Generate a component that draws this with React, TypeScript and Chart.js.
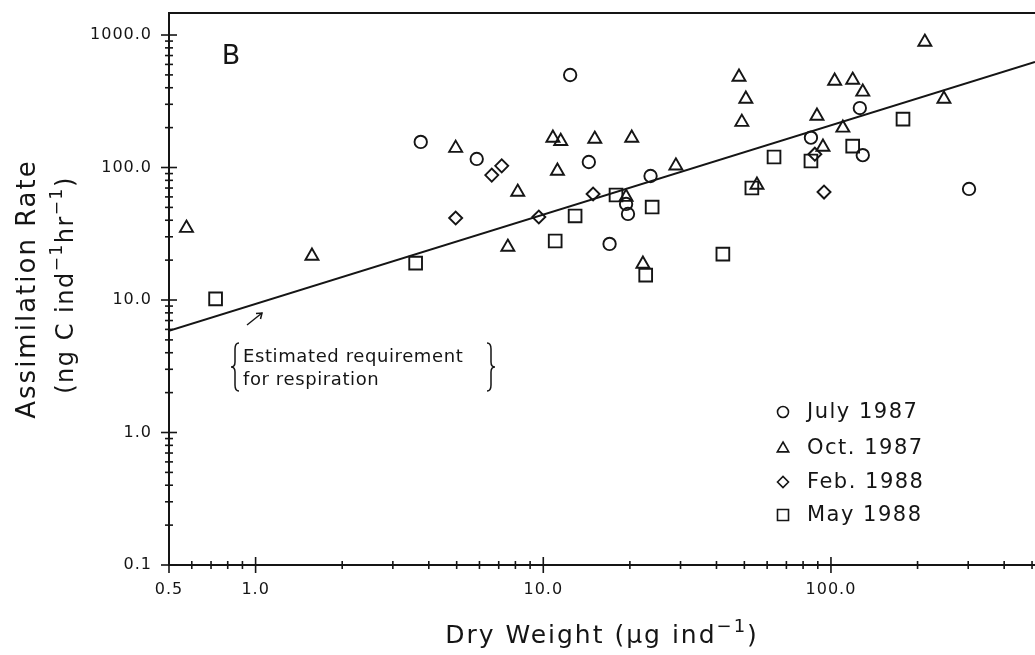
import React, { useEffect, useRef } from 'react';
import { Chart, registerables } from 'chart.js';

Chart.register(...registerables);

const FONT = '"DejaVu Sans", "Noto Sans", sans-serif';
const INK = '#151515';

// Axis ranges and tick values (log-log)
const xMin = 0.5;
const xMax = 512;
const yMin = 0.1;
const yMax = 1466;
const xTickValues = [
  0.5, 0.6, 0.7, 0.8, 0.9, 1, 2, 3, 4, 5, 6, 7, 8, 9,
  10, 20, 30, 40, 50, 60, 70, 80, 90, 100, 200, 300, 400, 500,
];
const xMajorValues = [0.5, 1, 10, 100];
const xMajorLabels = ['0.5', '1.0', '10.0', '100.0'];
const yTickValues = [
  0.1, 0.2, 0.3, 0.4, 0.5, 0.6, 0.7, 0.8, 0.9,
  1, 2, 3, 4, 5, 6, 7, 8, 9,
  10, 20, 30, 40, 50, 60, 70, 80, 90,
  100, 200, 300, 400, 500, 600, 700, 800, 900, 1000,
];
const yMajorValues = [0.1, 1, 10, 100, 1000];
const yMajorLabels = ['0.1', '1.0', '10.0', '100.0', '1000.0'];

// July 1987 (circles)
const julyWeight = [3.75, 5.87, 12.4, 14.4, 23.6, 19.4, 19.7, 17.0, 85.2, 126, 129, 302];
const julyRate = [156, 116, 499, 110, 86.3, 53.1, 44.6, 26.5, 168, 281, 124, 68.9];

// Oct. 1987 (triangles)
const octWeight = [
  0.575, 1.57, 4.96, 8.15, 7.53, 10.8, 11.5, 11.2, 15.1, 20.3, 28.9, 19.4, 22.2,
  47.9, 50.6, 49.0, 55.3, 89.4, 103, 119, 129, 212, 247, 110, 93.8,
];
const octRate = [
  34.9, 21.5, 140, 65.3, 25.1, 167, 158, 94.2, 164, 167, 103, 59.8, 18.7,
  482, 329, 220, 73.8, 245, 450, 457, 372, 885, 329, 199, 143,
];

// Feb. 1988 (diamonds)
const febWeight = [4.96, 6.62, 7.17, 9.65, 14.9, 87.9, 94.6];
const febRate = [41.6, 87.7, 103, 42.3, 63.1, 126, 65.3];

// May 1988 (squares)
const mayWeight = [0.726, 3.6, 11.0, 12.9, 17.9, 23.9, 22.7, 42.1, 53.1, 63.4, 85.2, 119, 178];
const mayRate = [10.2, 19.0, 27.9, 43.1, 62.0, 50.3, 15.4, 22.2, 70.0, 120, 112, 145, 232];

// Estimated respiration requirement line (end points)
const respWeight = [0.5, 512];
const respRate = [5.85, 625];

const seriesNames = ['July 1987', 'Oct. 1987', 'Feb. 1988', 'May 1988'];

const toPoints = (xs: number[], ys: number[]) => xs.map((x, i) => ({ x, y: ys[i] }));

type Shape = 'circle' | 'triangle' | 'diamond' | 'square';

function drawShape(ctx: CanvasRenderingContext2D, shape: Shape, x: number, y: number, r: number) {
  ctx.beginPath();
  if (shape === 'circle') {
    ctx.arc(x, y, r, 0, Math.PI * 2);
  } else if (shape === 'triangle') {
    ctx.moveTo(x, y - r);
    ctx.lineTo(x + r * 0.95, y + r * 0.65);
    ctx.lineTo(x - r * 0.95, y + r * 0.65);
    ctx.closePath();
  } else if (shape === 'diamond') {
    ctx.moveTo(x - r, y);
    ctx.lineTo(x, y - r);
    ctx.lineTo(x + r, y);
    ctx.lineTo(x, y + r);
    ctx.closePath();
  } else {
    ctx.rect(x - r, y - r, 2 * r, 2 * r);
  }
  ctx.stroke();
}

// Draws a run of text pieces (normal / superscript) centred on cx
function drawRich(
  ctx: CanvasRenderingContext2D,
  parts: { t: string; sup?: boolean }[],
  size: number,
  spacing: number,
  cx: number,
  baseline: number,
) {
  const measure = (p: { t: string; sup?: boolean }) => {
    ctx.font = `${p.sup ? Math.round(size * 0.72) : size}px ${FONT}`;
    ctx.letterSpacing = `${spacing}px`;
    return ctx.measureText(p.t).width;
  };
  const total = parts.reduce((s, p) => s + measure(p), 0);
  let x = cx - total / 2;
  ctx.textAlign = 'left';
  ctx.textBaseline = 'alphabetic';
  for (const p of parts) {
    const w = measure(p);
    ctx.fillText(p.t, x, p.sup ? baseline - size * 0.45 : baseline);
    x += w;
  }
}

const zeroPadding = (s: any) => {
  s.paddingTop = 0;
  s.paddingBottom = 0;
  s.paddingLeft = 0;
  s.paddingRight = 0;
};

const framePlugin = {
  id: 'frameAndTicks',
  beforeDraw(chart: any) {
    chart.ctx.letterSpacing = '1px';
  },
  afterDraw(chart: any) {
    const { ctx, chartArea } = chart;
    const { left, right, top, bottom } = chartArea;
    const xs = chart.scales.x;
    const ys = chart.scales.y;
    ctx.save();
    ctx.strokeStyle = INK;
    ctx.fillStyle = INK;
    ctx.lineCap = 'butt';

    // axis frame: left, bottom, top
    ctx.lineWidth = 2;
    ctx.beginPath();
    ctx.moveTo(right, top);
    ctx.lineTo(left, top);
    ctx.lineTo(left, bottom);
    ctx.lineTo(right, bottom);
    ctx.stroke();

    // crossing tick marks
    ctx.lineWidth = 1.6;
    for (const v of xTickValues) {
      const px = xs.getPixelForValue(v);
      if (px > right) continue;
      const h = xMajorValues.includes(v) ? 8 : 4;
      ctx.beginPath();
      ctx.moveTo(px, bottom - h);
      ctx.lineTo(px, bottom + h);
      ctx.stroke();
    }
    for (const v of yTickValues) {
      const py = ys.getPixelForValue(v);
      const w = yMajorValues.includes(v) ? 8 : 4;
      ctx.beginPath();
      ctx.moveTo(left - w, py);
      ctx.lineTo(left + w, py);
      ctx.stroke();
    }

    // axis titles
    ctx.save();
    ctx.translate(35, (top + bottom) / 2);
    ctx.rotate(-Math.PI / 2);
    drawRich(ctx, [{ t: 'Assimilation Rate' }], 26, 2, 0, 0);
    ctx.restore();

    ctx.save();
    ctx.translate(73, (top + bottom) / 2 - 4);
    ctx.rotate(-Math.PI / 2);
    drawRich(
      ctx,
      [{ t: '(ng C ind' }, { t: '−1', sup: true }, { t: 'hr' }, { t: '−1', sup: true }, { t: ')' }],
      24,
      1.5,
      0,
      0,
    );
    ctx.restore();

    drawRich(
      ctx,
      [{ t: 'Dry Weight (' }, { t: 'μ' }, { t: 'g ind' }, { t: '−1', sup: true }, { t: ')' }],
      25,
      2,
      602,
      643,
    );

    // panel letter
    ctx.font = `27px ${FONT}`;
    ctx.letterSpacing = '0px';
    ctx.textAlign = 'center';
    ctx.textBaseline = 'middle';
    ctx.fillText('B', 231, 57);

    // legend
    const shapes: Shape[] = ['circle', 'triangle', 'diamond', 'square'];
    const rows = [412, 448, 482, 515];
    ctx.lineWidth = 1.6;
    shapes.forEach((s, i) => {
      drawShape(ctx, s, 783, rows[i], s === 'square' ? 5.5 : s === 'triangle' ? 6 : 5.5);
      ctx.font = `21px ${FONT}`;
      ctx.letterSpacing = '1.5px';
      ctx.textAlign = 'left';
      ctx.textBaseline = 'middle';
      ctx.fillText(seriesNames[i], 807, rows[i] + 1);
    });

    // respiration note with braces and arrow
    ctx.font = `18px ${FONT}`;
    ctx.letterSpacing = '0.6px';
    ctx.textAlign = 'left';
    ctx.textBaseline = 'middle';
    ctx.fillText('Estimated requirement', 243, 357);
    ctx.fillText('for respiration', 243, 380);

    const brace = (x: number, y0: number, y1: number, dir: number) => {
      const m = (y0 + y1) / 2;
      const w = 4 * dir;
      ctx.beginPath();
      ctx.moveTo(x + w, y0);
      ctx.quadraticCurveTo(x, y0, x, y0 + 6);
      ctx.lineTo(x, m - 5);
      ctx.quadraticCurveTo(x, m, x - w, m);
      ctx.quadraticCurveTo(x, m, x, m + 5);
      ctx.lineTo(x, y1 - 6);
      ctx.quadraticCurveTo(x, y1, x + w, y1);
      ctx.stroke();
    };
    ctx.lineWidth = 1.5;
    brace(235, 343, 391, 1);
    brace(491, 343, 391, -1);

    ctx.beginPath();
    ctx.moveTo(247, 325);
    ctx.lineTo(262, 313);
    ctx.stroke();
    ctx.beginPath();
    ctx.moveTo(256, 313.5);
    ctx.lineTo(262, 313);
    ctx.lineTo(260.5, 319);
    ctx.stroke();

    ctx.restore();
  },
};

export default function App() {
  const canvasRef = useRef<HTMLCanvasElement | null>(null);

  useEffect(() => {
    if (!canvasRef.current) return;
    const scatterStyle = (shape: string, radius: number) => ({
      type: 'scatter' as const,
      pointStyle: shape,
      pointRadius: radius,
      pointHoverRadius: radius,
      pointBorderWidth: 1.9,
      pointBorderColor: INK,
      pointBackgroundColor: 'rgba(0,0,0,0)',
      showLine: false,
    });
    const chart = new Chart(canvasRef.current, {
      type: 'scatter',
      data: {
        datasets: [
          {
            label: 'respiration',
            type: 'line',
            data: toPoints(respWeight, respRate),
            borderColor: INK,
            borderWidth: 2,
            pointRadius: 0,
            fill: false,
          } as any,
          { label: seriesNames[0], data: toPoints(julyWeight, julyRate), ...scatterStyle('circle', 6.2) },
          { label: seriesNames[1], data: toPoints(octWeight, octRate), ...scatterStyle('triangle', 7.5) },
          { label: seriesNames[2], data: toPoints(febWeight, febRate), ...scatterStyle('rectRot', 6.5) },
          { label: seriesNames[3], data: toPoints(mayWeight, mayRate), ...scatterStyle('rect', 9) },
        ],
      },
      options: {
        animation: false,
        responsive: false,
        maintainAspectRatio: false,
        devicePixelRatio: 1,
        events: [],
        layout: { autoPadding: false, padding: { top: 13, left: 0, right: 0, bottom: 0 } },
        plugins: { legend: { display: false }, tooltip: { enabled: false } },
        scales: {
          x: {
            type: 'logarithmic',
            min: xMin,
            max: xMax,
            afterBuildTicks: (s: any) => {
              s.ticks = xTickValues.map((v) => ({ value: v }));
            },
            afterFit: (s: any) => {
              s.height = 90;
              zeroPadding(s);
            },
            grid: { display: false, drawTicks: false },
            border: { display: false },
            ticks: {
              autoSkip: false,
              maxRotation: 0,
              padding: 15,
              color: INK,
              font: { family: FONT, size: 16 },
              callback: (v: any) => {
                const i = xMajorValues.indexOf(Number(v));
                return i >= 0 ? xMajorLabels[i] : '';
              },
            },
          },
          y: {
            type: 'logarithmic',
            min: yMin,
            max: yMax,
            afterBuildTicks: (s: any) => {
              s.ticks = yTickValues.map((v) => ({ value: v }));
            },
            afterFit: (s: any) => {
              s.width = 169;
              zeroPadding(s);
            },
            grid: { display: false, drawTicks: false },
            border: { display: false },
            ticks: {
              autoSkip: false,
              padding: 17,
              color: INK,
              font: { family: FONT, size: 16 },
              callback: (v: any) => {
                const i = yMajorValues.indexOf(Number(v));
                return i >= 0 ? yMajorLabels[i] : '';
              },
            },
          },
        },
      } as any,
      plugins: [framePlugin],
    });
    return () => chart.destroy();
  }, []);

  return (
    <div style={{ position: 'fixed', left: 0, top: 0, width: 1035, height: 655, background: '#fff' }}>
      <canvas ref={canvasRef} width={1035} height={655} style={{ display: 'block' }} />
    </div>
  );
}
